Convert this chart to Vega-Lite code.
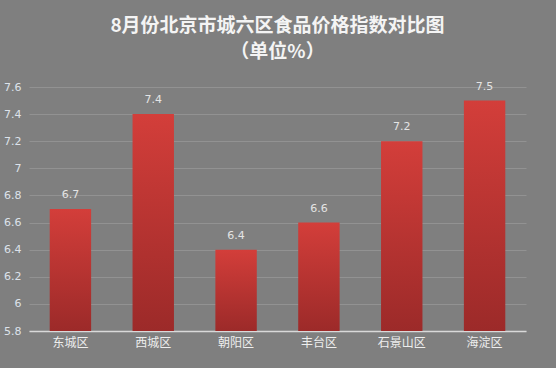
{
  "$schema": "https://vega.github.io/schema/vega-lite/v6.json",
  "width": 497,
  "height": 244,
  "autosize": {"type": "none"},
  "padding": {"left": 29, "top": 87, "right": 30, "bottom": 37},
  "background": "#7f7f7f",
  "title": {
    "text": ["8月份北京市城六区食品价格指数对比图", "（单位%）"],
    "fontSize": 19,
    "fontWeight": "bold",
    "font": "Noto Sans CJK SC",
    "color": "#f4f4f4",
    "lineHeight": 26,
    "anchor": "middle",
    "offset": 19
  },
  "data": {
    "values": [
      {"district": "东城区", "value": 6.7},
      {"district": "西城区", "value": 7.4},
      {"district": "朝阳区", "value": 6.4},
      {"district": "丰台区", "value": 6.6},
      {"district": "石景山区", "value": 7.2},
      {"district": "海淀区", "value": 7.5}
    ]
  },
  "config": {
    "view": {"stroke": null},
    "font": "Noto Sans CJK SC"
  },
  "encoding": {
    "x": {
      "field": "district",
      "type": "nominal",
      "sort": null,
      "scale": {"paddingInner": 0.5, "paddingOuter": 0.25},
      "axis": {
        "title": null,
        "labelAngle": 0,
        "labelColor": "#eeeeee",
        "labelFontSize": 12,
        "labelPadding": 6,
        "ticks": false,
        "domainColor": "#d9d9d9",
        "domainWidth": 1.5,
        "grid": false
      }
    },
    "y": {
      "field": "value",
      "type": "quantitative",
      "scale": {"domain": [5.8, 7.6], "zero": false, "nice": false},
      "axis": {
        "title": null,
        "values": [5.8, 6, 6.2, 6.4, 6.6, 6.8, 7, 7.2, 7.4, 7.6],
        "format": ".1~f",
        "labelColor": "#dde2ea",
        "labelFontSize": 11,
        "labelFont": "DejaVu Sans",
        "labelPadding": 8,
        "ticks": false,
        "domain": false,
        "grid": true,
        "gridColor": "#929292",
        "gridWidth": 1
      }
    }
  },
  "layer": [
    {
      "mark": {
        "type": "bar",
        "fill": {
          "gradient": "linear",
          "x1": 0, "y1": 0, "x2": 0, "y2": 1,
          "stops": [
            {"offset": 0, "color": "#d33e3a"},
            {"offset": 1, "color": "#9c2a29"}
          ]
        }
      },
      "encoding": {
        "y2": {"datum": 5.8}
      }
    },
    {
      "mark": {"type": "text", "dy": -14, "fontSize": 11, "color": "#e4e4e4", "font": "DejaVu Sans"},
      "encoding": {
        "text": {"field": "value", "type": "quantitative"}
      }
    }
  ]
}
